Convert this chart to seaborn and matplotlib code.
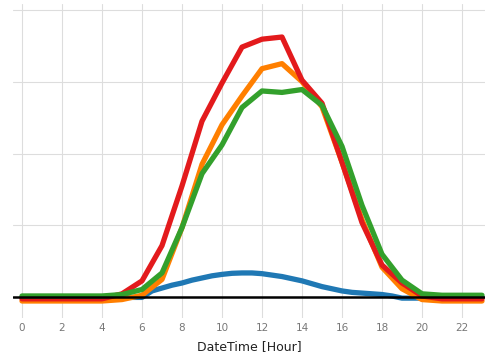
import pandas as pd
import matplotlib
matplotlib.use("Agg")
import matplotlib.pyplot as plt
import seaborn as sns

# =========================================================
# DATA
# =========================================================

hours = list(range(24))

# blue series is finer (half-hourly)
blue_hours = [h / 2 for h in range(47)]
blue = [0.0, 0.0, 0.0, 0.0, 0.0, 0.0, 0.0, 0.0, 0.0, 0.0, 0.0, 0.0,
        0.0, 0.09, 0.13, 0.17, 0.20, 0.24, 0.27, 0.30, 0.32, 0.335, 0.34, 0.34,
        0.33, 0.31, 0.29, 0.26, 0.23, 0.19, 0.15, 0.12, 0.09, 0.07, 0.06, 0.05,
        0.04, 0.02, -0.01, -0.01, -0.01, 0.0, 0.0, 0.0, 0.0, 0.0, 0.0]

orange = [-0.05, -0.05, -0.05, -0.05, -0.05, -0.03, 0.03, 0.25, 0.97, 1.85, 2.40, 2.80,
          3.18, 3.25, 3.00, 2.65, 1.88, 1.08, 0.42, 0.12, -0.03, -0.05, -0.05, -0.05]

red = [-0.02, -0.02, -0.02, -0.02, -0.02, 0.05, 0.23, 0.72, 1.55, 2.45, 2.98, 3.48,
       3.59, 3.62, 3.02, 2.70, 1.88, 1.04, 0.45, 0.20, 0.02, -0.02, -0.02, -0.02]

green = [0.02, 0.02, 0.02, 0.02, 0.02, 0.04, 0.11, 0.34, 0.97, 1.72, 2.12, 2.64,
         2.87, 2.85, 2.89, 2.67, 2.10, 1.28, 0.60, 0.24, 0.05, 0.03, 0.03, 0.03]

series_names = ["blue", "orange", "red", "green"]
series_colors = ["#1f78b4", "#ff7f00", "#e31a1c", "#33a02c"]

x_ticks = list(range(0, 24, 2))
y_ticks = [0, 1, 2, 3, 4]

# long-form table for seaborn
frames = [pd.DataFrame({"hour": blue_hours, "value": blue, "series": "blue"})]
for name, values in zip(series_names[1:], [orange, red, green]):
    frames.append(pd.DataFrame({"hour": hours, "value": values, "series": name}))
df = pd.concat(frames, ignore_index=True)

# =========================================================
# PLOT
# =========================================================

sns.set_style("whitegrid")
plt.rcParams["font.family"] = ["DejaVu Sans"]

fig = plt.figure(figsize=(5.0, 3.58), dpi=100)
ax = fig.add_axes([0.026, 0.112, 0.944, 0.877])

sns.lineplot(
    data=df,
    x="hour",
    y="value",
    hue="series",
    hue_order=series_names,
    palette=dict(zip(series_names, series_colors)),
    linewidth=3.8,
    legend=False,
    ax=ax,
)

# zero line
ax.axhline(0, color="black", linewidth=1.8, zorder=10)

ax.set_xlim(-0.45, 23.15)
ax.set_ylim(-0.285, 4.08)

ax.set_xticks(x_ticks)
ax.set_yticks(y_ticks)
ax.set_yticklabels([])

ax.tick_params(axis="x", length=0, pad=4, labelsize=7.5, labelcolor="#777777")
ax.tick_params(axis="y", length=0)

ax.grid(True, color="#dddddd", linewidth=0.8)

for spine in ax.spines.values():
    spine.set_visible(False)

ax.set_xlabel("DateTime [Hour]", fontsize=9, color="#222222", labelpad=5)
ax.set_ylabel("")

fig.savefig("out.png", dpi=100)
